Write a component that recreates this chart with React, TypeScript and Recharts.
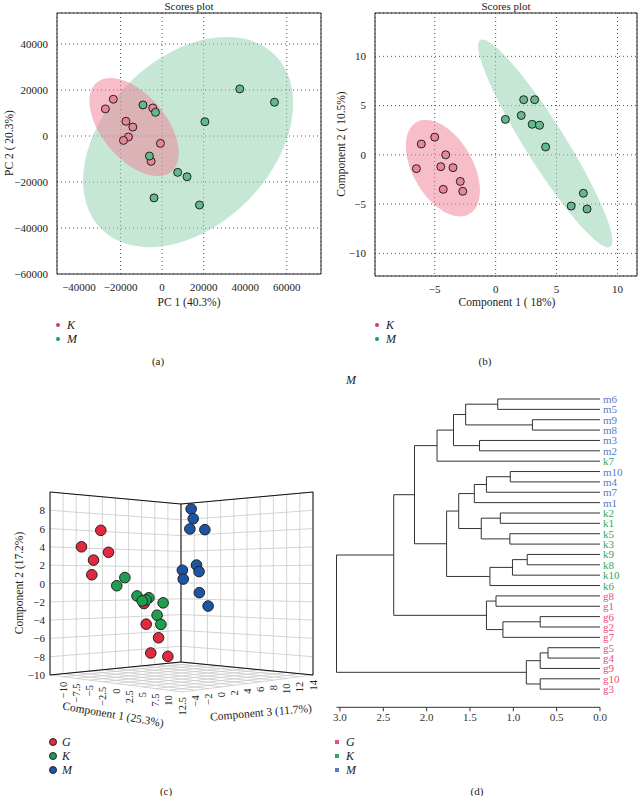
import React from "react";
import {
  ScatterChart,
  Scatter,
  XAxis,
  YAxis,
  CartesianGrid,
  ReferenceLine,
} from "recharts";

const FONT = "'Liberation Serif', 'DejaVu Serif', serif";

// ---------- (a) PCA scores ----------
const pcaK = [
  { x: -27300, y: 11800 },
  { x: -23500, y: 16000 },
  { x: -17400, y: 6400 },
  { x: -14100, y: 3900 },
  { x: -16200, y: -400 },
  { x: -18600, y: -1900 },
  { x: -4500, y: 12200 },
  { x: -800, y: -3200 },
  { x: -5300, y: -11000 },
];
const pcaM = [
  { x: -9200, y: 13500 },
  { x: -3200, y: 10300 },
  { x: -6100, y: -8700 },
  { x: 7500, y: -15800 },
  { x: 12000, y: -17700 },
  { x: 20600, y: 6200 },
  { x: 37400, y: 20500 },
  { x: 54100, y: 14700 },
  { x: -3900, y: -26900 },
  { x: 18000, y: -30000 },
];
const pcaXTicks = [-40000, -20000, 0, 20000, 40000, 60000];
const pcaYTicks = [-60000, -40000, -20000, 0, 20000, 40000];
// confidence ellipses: centre + two half-axis vectors (data units)
const pcaEllipseK = { cx: -13490, cy: 3920, ux: 17970, uy: -19350, vx: 11810, vy: 8975 };
const pcaEllipseM = { cx: 12530, cy: -2610, ux: 41830, uy: 37820, vx: 28430, vy: -25710 };

// ---------- (b) PLS-DA scores ----------
const plsK = [
  { x: -6.5, y: -1.4 },
  { x: -6.1, y: 1.1 },
  { x: -5.0, y: 1.8 },
  { x: -4.1, y: 0.0 },
  { x: -4.5, y: -1.2 },
  { x: -3.5, y: -1.3 },
  { x: -2.9, y: -2.7 },
  { x: -4.3, y: -3.5 },
  { x: -2.7, y: -3.7 },
];
const plsM = [
  { x: 0.8, y: 3.6 },
  { x: 2.1, y: 4.0 },
  { x: 2.3, y: 5.6 },
  { x: 3.2, y: 5.6 },
  { x: 3.0, y: 3.1 },
  { x: 3.6, y: 3.0 },
  { x: 4.1, y: 0.8 },
  { x: 7.2, y: -3.9 },
  { x: 6.2, y: -5.2 },
  { x: 7.5, y: -5.5 },
];
const plsXTicks = [-5, 0, 5, 10];
const plsYTicks = [-10, -5, 0, 5, 10];
const plsEllipseK = { cx: -4.33, cy: -1.35, ux: 2.17, uy: -4.66, vx: 2.13, vy: 1.52 };
const plsEllipseM = { cx: 4.07, cy: 1.16, ux: 5.33, uy: -10.5, vx: 1.39, vy: 1.09 };

// ---------- (c) 3D scores [c1, c2, c3] ----------
const scoresG = [
  [-6.6, 5.8, -3], [-11.5, 4.1, -2], [-3.9, 3.4, -4], [-8.6, 2.6, -2.5], [-8.3, 1.0, -3],
  [-0.9, -2.0, -1], [2.0, -4.0, -3], [3.1, -5.4, -2], [4.1, -6.8, -4], [6.1, -7.1, -3],
];
const scoresK = [
  [-7.0, 0.7, 1], [-7.3, -0.2, 0], [-4.7, -1.3, 1], [-3.7, -1.5, 2], [-3.0, -1.7, 1],
  [-3.1, -1.8, 0.5], [-1.0, -2.0, 2], [-0.9, -3.3, 1], [-0.8, -4.3, 1.5],
];
const scoresM = [
  [-8.1, 9.0, 12], [-7.7, 7.8, 12], [-7.1, 6.5, 11], [-5.5, 6.4, 12], [-7.7, 2.2, 12.5],
  [-6.6, 1.4, 12], [-11.0, 1.6, 13], [-9.6, 0.5, 12], [-5.3, -1.1, 11], [-2.4, -2.6, 10],
];
const c1Grid = [-12.5, -10, -7.5, -5, -2.5, 0, 2.5, 5, 7.5, 10, 12.5];
const c2Grid = [-10, -8, -6, -4, -2, 0, 2, 4, 6, 8, 10];
const c3Grid = [-6, -4, -2, 0, 2, 4, 6, 8, 10, 12, 14];
const c1Ticks = [-10, -7.5, -5, -2.5, 0, 2.5, 5, 7.5, 10, 12.5];
const c2Ticks = [-10, -8, -6, -4, -2, 0, 2, 4, 6, 8];
const c3Ticks = [-4, -2, 0, 2, 4, 6, 8, 10, 12, 14];

// ---------- (d) dendrogram ----------
const leaves = [
  "m6", "m5", "m9", "m8", "m3", "m2", "k7", "m10", "m4", "m7", "m1", "k2", "k1", "k5", "k3",
  "k9", "k8", "k10", "k6", "g8", "g1", "g6", "g2", "g7", "g5", "g4", "g9", "g10", "g3",
];
// [left, right, height]; merge i gets id "n" + (i + 1)
const merges: [string, string, number][] = [
  ["m6", "m5", 1.18], ["m9", "m8", 0.78], ["n1", "n2", 1.55], ["m3", "m2", 1.39],
  ["n3", "n4", 1.69], ["n5", "k7", 1.88], ["m10", "m4", 1.035], ["n7", "m7", 1.31],
  ["n8", "m1", 1.45], ["k2", "k1", 1.15], ["k5", "k3", 1.04], ["n10", "n11", 1.37],
  ["n9", "n12", 1.63], ["k9", "k8", 0.84], ["n14", "k10", 1.01], ["n15", "k6", 1.27],
  ["n13", "n16", 1.77], ["n6", "n17", 2.14], ["g8", "g1", 1.2], ["g6", "g2", 0.69],
  ["n20", "g7", 1.12], ["n19", "n21", 1.31], ["n18", "n22", 2.38], ["g5", "g4", 0.6],
  ["n24", "g9", 0.69], ["g10", "g3", 0.69], ["n25", "n26", 0.85], ["n23", "n27", 3.04],
];
const dendroTicks = [3, 2.5, 2, 1.5, 1, 0.5, 0];

const RED = "#e8507a";
const GREEN = "#2ea866";
const BLUE = "#5a7bbf";

const minus = (v: number | string) => String(v).replace("-", "\u2212");

const ellipsePoints = (e: any) =>
  Array.from({ length: 73 }, (_, i) => {
    const t = (i / 72) * Math.PI * 2;
    return {
      x: e.cx + e.ux * Math.cos(t) + e.vx * Math.sin(t),
      y: e.cy + e.uy * Math.cos(t) + e.vy * Math.sin(t),
    };
  });

const none = () => <g />;

const blob = (fill: string, opacity: number) => (props: any) => {
  const pts = props.points || [];
  const d = "M" + pts.map((p: any) => `${p.x},${p.y}`).join("L") + "Z";
  return <path d={d} fill={fill} fillOpacity={opacity} stroke="none" />;
};

const segments = (stroke: string, width: number) => (props: any) => {
  const pts = props.points || [];
  let d = "";
  for (let i = 0; i + 1 < pts.length; i += 2) {
    d += `M${pts[i].x},${pts[i].y}L${pts[i + 1].x},${pts[i + 1].y}`;
  }
  return <path d={d} stroke={stroke} strokeWidth={width} fill="none" />;
};

const dot = (fill: string, r: number) => (p: any) => (
  <circle cx={p.cx} cy={p.cy} r={r} fill={fill} stroke="#222" strokeWidth={1} />
);

// perspective-ish projection of the 3D box used in (c)
const project = (c1: number, c2: number, c3: number) => {
  const a = (c1 + 12.5) / 25;
  const b = (c3 + 6) / 20;
  const h = (c2 + 10) / 20;
  const floor = 675 + 17 * a - 13 * b - 4 * a * b;
  const s = 183 + 27 * a - 25 * b - 2 * a * b;
  return { u: 50 + 132 * a + 131 * b, v: floor - h * s };
};

const seg = (p: number[], q: number[]) => [
  project(p[0], p[1], p[2]),
  project(q[0], q[1], q[2]),
];

const gridSegs: any[] = [];
c3Grid.forEach((c3) => gridSegs.push(...seg([-12.5, -10, c3], [-12.5, 10, c3])));
c2Grid.forEach((c2) => gridSegs.push(...seg([-12.5, c2, -6], [-12.5, c2, 14])));
c1Grid.forEach((c1) => gridSegs.push(...seg([c1, -10, 14], [c1, 10, 14])));
c2Grid.forEach((c2) => gridSegs.push(...seg([-12.5, c2, 14], [12.5, c2, 14])));
c1Grid.forEach((c1) => gridSegs.push(...seg([c1, -10, -6], [c1, -10, 14])));
c3Grid.forEach((c3) => gridSegs.push(...seg([-12.5, -10, c3], [12.5, -10, c3])));

const boxSegs: any[] = [
  ...seg([-12.5, -10, -6], [-12.5, 10, -6]),
  ...seg([-12.5, -10, 14], [-12.5, 10, 14]),
  ...seg([12.5, -10, 14], [12.5, 10, 14]),
  ...seg([-12.5, 10, -6], [-12.5, 10, 14]),
  ...seg([-12.5, 10, 14], [12.5, 10, 14]),
  ...seg([-12.5, -10, -6], [-12.5, -10, 14]),
  ...seg([-12.5, -10, 14], [12.5, -10, 14]),
];

const toUV = (arr: number[][]) => arr.map((p) => project(p[0], p[1], p[2]));
const c1Labels = c1Ticks.map((t) => ({ ...project(t, -10, -6), label: minus(t) }));
const c3Labels = c3Ticks.map((t) => ({ ...project(12.5, -10, t), label: minus(t) }));
const c2Labels = c2Ticks.map((t) => ({ ...project(-12.5, t, -6), label: minus(t) }));

const vertLabel = (p: any) => (
  <text
    x={p.cx}
    y={p.cy + 5}
    transform={`rotate(-90 ${p.cx} ${p.cy + 5})`}
    textAnchor="end"
    dominantBaseline="central"
    fontSize={10.5}
    fill="#222"
  >
    {p.payload.label}
  </text>
);
const leftLabel = (p: any) => (
  <text x={p.cx - 5} y={p.cy} textAnchor="end" dominantBaseline="central" fontSize={11} fill="#222">
    {p.payload.label}
  </text>
);

// dendrogram layout
const nodePos: Record<string, { x: number; y: number }> = {};
leaves.forEach((l, i) => (nodePos[l] = { x: 0, y: i }));
const treeSegs: { x: number; y: number }[] = [];
merges.forEach(([l, r, h], i) => {
  const a = nodePos[l];
  const b = nodePos[r];
  treeSegs.push({ x: a.x, y: a.y }, { x: h, y: a.y });
  treeSegs.push({ x: h, y: a.y }, { x: h, y: b.y });
  treeSegs.push({ x: b.x, y: b.y }, { x: h, y: b.y });
  nodePos["n" + (i + 1)] = { x: h, y: (a.y + b.y) / 2 };
});
const leafData = leaves.map((l, i) => ({ x: 0, y: i, label: l }));
const leafColor = (l: string) => (l[0] === "m" ? BLUE : l[0] === "k" ? GREEN : RED);
const leafLabel = (p: any) => (
  <text x={p.cx + 3} y={p.cy} dominantBaseline="central" fontSize={11} fill={leafColor(p.payload.label)}>
    {p.payload.label}
  </text>
);

const Txt = ({ x, y, children, size = 11, rotate = 0, italic = false }: any) => (
  <div
    style={{
      position: "absolute",
      left: x,
      top: y,
      transform: `translate(-50%, -50%) rotate(${rotate}deg)`,
      fontSize: size,
      fontStyle: italic ? "italic" : "normal",
      color: "#222",
      whiteSpace: "nowrap",
      lineHeight: 1,
    }}
  >
    {children}
  </div>
);

const Key = ({ x, y, color, kind, label }: any) => (
  <>
    <div
      style={{
        position: "absolute",
        left: x - (kind === "circle" ? 4 : 2),
        top: y - (kind === "circle" ? 4 : 2),
        width: kind === "circle" ? 6 : 4,
        height: kind === "circle" ? 6 : 4,
        borderRadius: kind === "square" ? 0 : "50%",
        background: color,
        border: kind === "circle" ? "1px solid #222" : "none",
      }}
    />
    <div
      style={{
        position: "absolute",
        left: x + 9,
        top: y - 7,
        fontSize: 12,
        fontStyle: "italic",
        color: "#222",
        lineHeight: "14px",
      }}
    >
      {label}
    </div>
  </>
);

const tickStyle = { fontSize: 11, fill: "#222", fontFamily: FONT };

const ScoresPanel = ({ k, m, ek, em, xDomain, yDomain, xTicks, yTicks, width, height, yWidth, right }: any) => (
  <ScatterChart width={width} height={height} margin={{ top: 13, right, bottom: 0, left: 0 }}>
    <CartesianGrid stroke="#555" strokeDasharray="1 3" />
    <XAxis
      type="number"
      dataKey="x"
      domain={xDomain}
      ticks={xTicks}
      allowDataOverflow
      height={26}
      tickLine={false}
      tickSize={4}
      tickMargin={5}
      axisLine={{ stroke: "#222" }}
      tick={tickStyle}
      tickFormatter={minus}
    />
    <YAxis
      type="number"
      dataKey="y"
      domain={yDomain}
      ticks={yTicks}
      allowDataOverflow
      width={yWidth}
      tickLine={false}
      tickSize={4}
      tickMargin={5}
      axisLine={{ stroke: "#222" }}
      tick={tickStyle}
      tickFormatter={minus}
    />
    <Scatter data={ellipsePoints(em)} line={blob("#8dd0ad", 0.5)} shape={none} isAnimationActive={false} />
    <Scatter data={ellipsePoints(ek)} line={blob("#f07d95", 0.5)} shape={none} isAnimationActive={false} />
    <Scatter data={k} shape={dot("#e9849a", 4)} isAnimationActive={false} />
    <Scatter data={m} shape={dot("#62b98c", 4)} isAnimationActive={false} />
    <ReferenceLine y={yDomain[1]} stroke="#222" />
    <ReferenceLine x={xDomain[1]} stroke="#222" />
  </ScatterChart>
);

export default function App() {
  return (
    <div
      style={{
        position: "absolute",
        left: 0,
        top: 0,
        width: 639,
        height: 796,
        background: "#fff",
        fontFamily: FONT,
        overflow: "hidden",
      }}
    >
      {/* (a) */}
      <div style={{ position: "absolute", left: 0, top: 0 }}>
        <ScoresPanel
          k={pcaK}
          m={pcaM}
          ek={pcaEllipseK}
          em={pcaEllipseM}
          xDomain={[-50600, 76500]}
          yDomain={[-60000, 53500]}
          xTicks={pcaXTicks}
          yTicks={pcaYTicks}
          width={330}
          height={300}
          yWidth={57}
          right={9}
        />
      </div>
      <Txt x={189} y={6}>Scores plot</Txt>
      <Txt x={10} y={143} rotate={-90} size={11.5}>PC 2 ( 20.3%)</Txt>
      <Txt x={189} y={303} size={11.5}>PC 1 (40.3%)</Txt>
      <Key x={58} y={325} color="#e0336b" kind="dot" label="K" />
      <Key x={58} y={339} color="#1b9e5e" kind="dot" label="M" />
      <Txt x={158} y={361}>(a)</Txt>

      {/* (b) */}
      <div style={{ position: "absolute", left: 320, top: 0 }}>
        <ScoresPanel
          k={plsK}
          m={plsM}
          ek={plsEllipseK}
          em={plsEllipseM}
          xDomain={[-9.9, 11.6]}
          yDomain={[-12.3, 14.4]}
          xTicks={plsXTicks}
          yTicks={plsYTicks}
          width={319}
          height={302}
          yWidth={55}
          right={2}
        />
      </div>
      <Txt x={506} y={6}>Scores plot</Txt>
      <Txt x={342} y={144} rotate={-90} size={11.5}>Component 2 ( 10.5%)</Txt>
      <Txt x={507} y={303} size={11.5}>Component 1 ( 18%)</Txt>
      <Key x={377} y={325} color="#e0336b" kind="dot" label="K" />
      <Key x={377} y={339} color="#1b9e5e" kind="dot" label="M" />
      <Txt x={485} y={361}>(b)</Txt>
      <Txt x={351} y={380} italic size={12}>M</Txt>

      {/* (c) */}
      <div style={{ position: "absolute", left: 0, top: 480 }}>
        <ScatterChart width={330} height={240} margin={{ top: 0, right: 0, bottom: 0, left: 0 }}>
          <XAxis type="number" dataKey="u" domain={[0, 330]} hide allowDataOverflow />
          <YAxis type="number" dataKey="v" domain={[480, 720]} reversed hide width={0} allowDataOverflow />
          <Scatter data={gridSegs} line={segments("#c9c9c9", 0.8)} shape={none} isAnimationActive={false} />
          <Scatter data={boxSegs} line={segments("#111", 1)} shape={none} isAnimationActive={false} />
          <Scatter data={c1Labels} shape={vertLabel} isAnimationActive={false} />
          <Scatter data={c3Labels} shape={vertLabel} isAnimationActive={false} />
          <Scatter data={c2Labels} shape={leftLabel} isAnimationActive={false} />
          <Scatter data={toUV(scoresG)} shape={dot("#e2293f", 5.3)} isAnimationActive={false} />
          <Scatter data={toUV(scoresK)} shape={dot("#1e9e4e", 5.3)} isAnimationActive={false} />
          <Scatter data={toUV(scoresM)} shape={dot("#1d55a5", 5.3)} isAnimationActive={false} />
        </ScatterChart>
      </div>
      <Txt x={20} y={583} rotate={-90} size={11.5}>Component 2 (17.2%)</Txt>
      <Txt x={113} y={715} rotate={10} size={11.5}>Component 1 (25.3%)</Txt>
      <Txt x={261} y={713} rotate={-5} size={11.5}>Component 3 (11.7%)</Txt>
      <Key x={53} y={742} color="#e2293f" kind="circle" label="G" />
      <Key x={53} y={756} color="#1e9e4e" kind="circle" label="K" />
      <Key x={53} y={770} color="#1d55a5" kind="circle" label="M" />
      <Txt x={166} y={791}>(c)</Txt>

      {/* (d) */}
      <div style={{ position: "absolute", left: 330, top: 390 }}>
        <ScatterChart width={309} height={338} margin={{ top: 9, right: 39, bottom: 0, left: 6.5 }}>
          <XAxis
            type="number"
            dataKey="x"
            domain={[0, 3.04]}
            reversed
            ticks={dendroTicks}
            height={20.7}
            tickSize={4}
            tickMargin={2}
            axisLine={{ stroke: "#333" }}
            tickLine={{ stroke: "#333" }}
            tick={{ ...tickStyle, fill: "#333" }}
            tickFormatter={(v: number) => v.toFixed(1)}
          />
          <YAxis type="number" dataKey="y" domain={[0, 29.75]} reversed hide width={0} />
          <Scatter data={treeSegs} line={segments("#333", 1)} shape={none} isAnimationActive={false} />
          <Scatter data={leafData} shape={leafLabel} isAnimationActive={false} />
        </ScatterChart>
      </div>
      <Key x={337} y={742} color={RED} kind="square" label="G" />
      <Key x={337} y={756} color={GREEN} kind="square" label="K" />
      <Key x={337} y={770} color={BLUE} kind="square" label="M" />
      <Txt x={477} y={791}>(d)</Txt>
    </div>
  );
}
